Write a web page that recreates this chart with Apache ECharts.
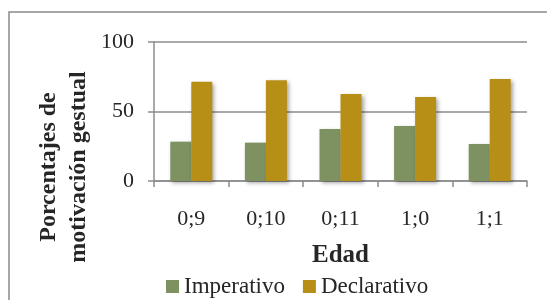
<!DOCTYPE html>
<html>
<head>
<meta charset="utf-8">
<script src="https://cdn.jsdelivr.net/npm/echarts@6/dist/echarts.min.js"></script>
<style>
  html, body { margin: 0; padding: 0; background: #fff; }
  #chart { width: 547px; height: 300px; }
</style>
</head>
<body>
<div id="chart"></div>
<script>
var edades = ['0;9', '0;10', '0;11', '1;0', '1;1'];
var imperativo = [28.3, 27.6, 37.4, 39.6, 26.6];
var declarativo = [71.4, 72.4, 62.6, 60.4, 73.4];
var ticksY = [0, 50, 100];

var fuente = '"Liberation Serif", "DejaVu Serif", serif';
var gris = '#8c8c8c';
var sombra = {
  shadowBlur: 4,
  shadowColor: 'rgba(0,0,0,0.35)',
  shadowOffsetX: 2,
  shadowOffsetY: 2
};

var myChart = echarts.init(document.getElementById('chart'));
var option = {
  animation: false,
  textStyle: { fontFamily: fuente },
  grid: { left: 154, right: 20, top: 42, bottom: 119 },
  graphic: [{
    type: 'rect',
    shape: { x: 9, y: 12, width: 700, height: 500 },
    style: { fill: 'none', stroke: '#8a8a8a', lineWidth: 1.5 },
    silent: true
  }, {
    // titulo del eje y, algo mas bajo que el centro del grid
    type: 'text',
    x: 64,
    y: 167,
    rotation: Math.PI / 2,
    silent: true,
    style: {
      text: 'Porcentajes de\nmotivación gestual',
      font: 'bold 24px ' + fuente,
      fill: '#262626',
      align: 'center',
      verticalAlign: 'middle',
      lineHeight: 30
    }
  }],
  legend: {
    left: 161,
    top: 270,
    itemWidth: 13,
    itemHeight: 13,
    itemGap: 18,
    icon: 'rect',
    formatter: '{t|{name}}',
    textStyle: {
      fontFamily: fuente, fontSize: 23, color: '#262626',
      rich: { t: { fontFamily: fuente, fontSize: 23, color: '#262626' } }
    },
    data: ['Imperativo', 'Declarativo']
  },
  xAxis: {
    type: 'category',
    data: edades,
    name: 'Edad',
    nameLocation: 'middle',
    nameGap: 62,
    nameTextStyle: { fontFamily: fuente, fontSize: 25, fontWeight: 'bold', color: '#262626' },
    axisLine: { lineStyle: { color: gris, width: 1.5 } },
    axisTick: { show: true, length: 6, lineStyle: { color: gris, width: 1.5 } },
    axisLabel: { margin: 27, fontFamily: fuente, fontSize: 22, color: '#262626' }
  },
  yAxis: {
    type: 'value',
    min: ticksY[0],
    max: ticksY[ticksY.length - 1],
    interval: 50,
    axisLine: { show: true, lineStyle: { color: gris, width: 1.5 } },
    axisTick: { show: true, length: 6, lineStyle: { color: gris, width: 1.5 } },
    splitLine: { lineStyle: { color: gris, width: 1.5 } },
    axisLabel: { margin: 20, fontFamily: fuente, fontSize: 22, color: '#262626' }
  },
  series: [{
    name: 'Imperativo',
    type: 'bar',
    barWidth: 21,
    barGap: '0%',
    data: imperativo,
    itemStyle: Object.assign({ color: '#7e9160' }, sombra)
  }, {
    name: 'Declarativo',
    type: 'bar',
    barWidth: 21,
    barGap: '0%',
    data: declarativo,
    itemStyle: Object.assign({ color: '#b78f17' }, sombra)
  }]
};
myChart.setOption(option);
</script>
</body>
</html>
